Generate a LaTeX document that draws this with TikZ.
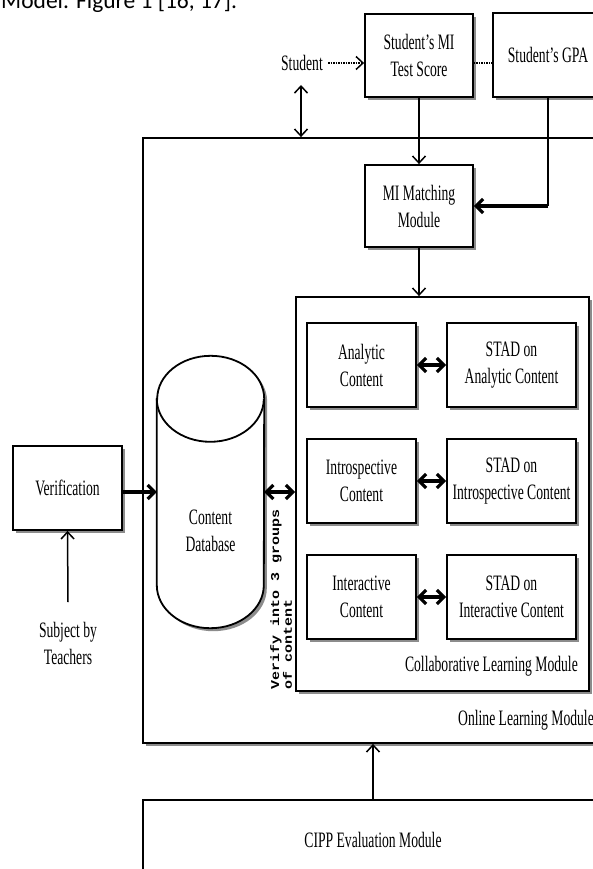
\documentclass[tikz,border=0pt]{standalone}
\usepackage{fontspec}
\setmainfont{Liberation Serif}[FakeStretch=0.62]
\newfontfamily\captfont{Carlito}
\newfontfamily\vertfont{Liberation Mono}
\usetikzlibrary{calc,arrows.meta,shadows}
\def\boxfont{\fontsize{22}{27}\selectfont}
\tikzset{
	box/.style={draw, line width=1.8pt, fill=white, align=center, font=\boxfont, inner sep=0pt,
		drop shadow={shadow xshift=3pt, shadow yshift=-3pt, fill=black!45, opacity=1}},
	txt/.style={align=center, font=\boxfont, inner sep=0pt},
	arr/.style={line width=1.5pt, -{Straight Barb[length=7pt,width=13pt]}},
	darr/.style={line width=1.5pt, {Straight Barb[length=7pt,width=13pt]}-{Straight Barb[length=7pt,width=13pt]}},
	tarr/.style={line width=3.2pt, -{Straight Barb[length=7pt,width=14pt]}},
	tdarr/.style={line width=3.2pt, {Straight Barb[length=7pt,width=14pt]}-{Straight Barb[length=7pt,width=14pt]}},
}

\begin{document}
\begin{tikzpicture}[x=1pt, y=1pt]
	%%%%% START %%%%%
	\useasboundingbox (0,0) rectangle (593,-869);
	
	\node[anchor=base west, inner sep=0pt, font=\captfont\fontsize{23.5}{28}\selectfont] (caption) at (1,-9) {Model. Figure 1 [16, 17].};
	
	% outer frame
	\node[box, minimum width=460, minimum height=605] (olm) at (373,-440.5) {};
	\node[txt, anchor=east] (olmlabel) at (594,-720) {Online Learning Module};
	
	% student part
	\node[txt] (student) at (302,-63) {Student};
	\node[box, minimum width=108, minimum height=83] (score) at (419,-55.5) {Student's MI\\Test Score};
	\node[box, minimum width=110, minimum height=84] (gpa) at (548,-55) {Student's GPA};
	\node[box, minimum width=108, minimum height=82] (match) at (419,-206) {MI Matching\\Module};
	\coordinate (stbot) at (301,-85);
	
	\draw[arr, densely dotted] ([xshift=5]student.east) -- (student.east -| score.west);
	\draw[line width=1.5pt, densely dotted] (student.east -| score.east) -- (student.east -| gpa.west);
	\draw[darr] (stbot) -- (stbot |- olm.north);
	\draw[arr] (score.south) -- (match.north);
	\draw[line width=1.5pt] (gpa.south) -- (gpa.south |- match.east);
	\draw[tarr] (gpa.south |- match.east) -- (match.east);
	
	% collaborative learning module
	\node[box, minimum width=293, minimum height=394] (clm) at (442.5,-494) {};
	\node[txt, anchor=east] (clmlabel) at (578,-666) {Collaborative Learning Module};
	\draw[arr] (match.south) -- (match.south |- clm.north);
	
	\node[box, minimum width=109, minimum height=84] (ana) at (361.5,-365) {Analytic\\Content};
	\node[box, minimum width=129, minimum height=84] (stadana) at (511.5,-365) {STAD on\\Analytic Content};
	\node[box, minimum width=109, minimum height=84] (intro) at (361.5,-481) {Introspective\\Content};
	\node[box, minimum width=129, minimum height=84] (stadintro) at (511.5,-481) {STAD on\\Introspective Content};
	\node[box, minimum width=109, minimum height=84] (inter) at (361.5,-597) {Interactive\\Content};
	\node[box, minimum width=129, minimum height=84] (stadinter) at (511.5,-597) {STAD on\\Interactive Content};
	
	\draw[tdarr] (ana.east) -- (stadana.west);
	\draw[tdarr] (intro.east) -- (stadintro.west);
	\draw[tdarr] (inter.east) -- (stadinter.west);
	
	% content database
	\node[inner sep=0pt, minimum width=107, minimum height=272] (db) at (210.5,-492) {};
	\draw[line width=1.8pt, fill=white, drop shadow={shadow xshift=3pt, shadow yshift=-3pt, fill=black!45, opacity=1}]
		($(db.north west)+(0,-43)$) -- ($(db.south west)+(0,43)$)
		arc[start angle=180, end angle=360, x radius=53.5, y radius=43]
		-- ($(db.north east)+(0,-43)$)
		arc[start angle=0, end angle=180, x radius=53.5, y radius=43] -- cycle;
	\draw[line width=1.8pt] ($(db.north west)+(0,-43)$) arc[start angle=180, end angle=360, x radius=53.5, y radius=43];
	\node[txt] (dblabel) at (210.5,-531) {Content\\Database};
	
	\draw[tdarr] (db.east) -- (db.east -| clm.west);
	\node[rotate=90, yscale=0.8, anchor=north west, align=left, inner sep=0pt, font=\vertfont\bfseries\fontsize{15}{16}\selectfont] (verify) at (270,-690) {Verify into 3 groups\\of content};
	
	% verification
	\node[box, minimum width=109, minimum height=84] (verif) at (67.5,-488) {Verification};
	\node[txt] (subj) at (68,-643) {Subject by\\Teachers};
	\coordinate (subjtop) at (68,-602);
	\draw[tarr] (verif.east |- db.west) -- (db.west);
	\draw[arr] (subjtop) -- (verif.south);
	
	% evaluation
	\node[box, minimum width=460, minimum height=80] (cipp) at (373,-840) {CIPP Evaluation Module};
	\draw[arr] (cipp.north) -- (olm.south);
	
	%%%%% END %%%%%
\end{tikzpicture}
\end{document}
